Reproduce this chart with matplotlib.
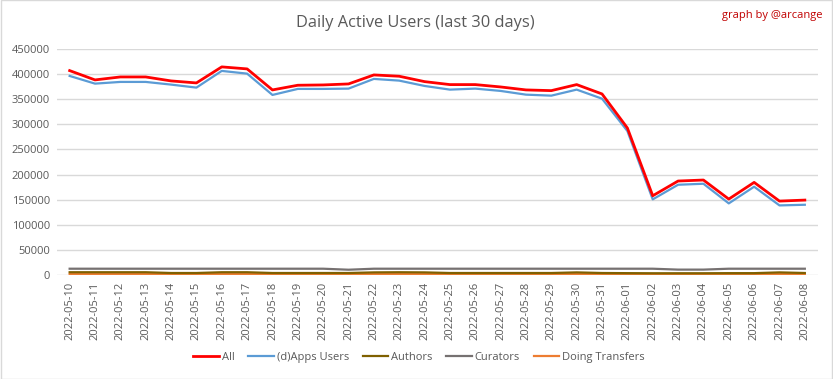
import matplotlib
matplotlib.use("Agg")
import matplotlib.pyplot as plt
from matplotlib.patches import Rectangle

dates = ["2022-05-10", "2022-05-11", "2022-05-12", "2022-05-13", "2022-05-14", "2022-05-15",
         "2022-05-16", "2022-05-17", "2022-05-18", "2022-05-19", "2022-05-20", "2022-05-21",
         "2022-05-22", "2022-05-23", "2022-05-24", "2022-05-25", "2022-05-26", "2022-05-27",
         "2022-05-28", "2022-05-29", "2022-05-30", "2022-05-31", "2022-06-01", "2022-06-02",
         "2022-06-03", "2022-06-04", "2022-06-05", "2022-06-06", "2022-06-07", "2022-06-08"]

all_users = [406800, 388300, 394200, 394200, 386300, 382300, 414200, 410200, 368400, 377700,
             378300, 380300, 398200, 395600, 384900, 379000, 379000, 374300, 368400, 367000,
             379000, 360400, 292700, 157900, 187200, 189200, 151300, 184500, 147300, 149300]
apps_users = [396200, 380900, 384300, 384300, 379000, 373000, 406200, 400800, 358400, 370400,
              370400, 371000, 390300, 386900, 376300, 369000, 371000, 366400, 359000, 357000,
              369000, 351000, 286700, 150700, 179800, 181800, 142700, 175900, 138700, 140000]
authors = [5800, 5800, 5800, 5800, 4300, 4300, 5800, 5800, 4300, 4300,
           4300, 4300, 5500, 5800, 5500, 4300, 4300, 4300, 4300, 4300,
           5500, 4300, 4000, 3800, 3800, 3800, 4000, 4000, 5500, 4300]
curators = [12800, 12800, 12800, 12800, 12800, 12800, 12800, 12800, 12800, 12800,
            12800, 10800, 12800, 12800, 12800, 12800, 12800, 12800, 12800, 12800,
            12800, 12800, 12800, 12800, 11000, 11000, 12800, 12800, 12800, 12800]
transfers = [2200, 2200, 2200, 2200, 2200, 2200, 2200, 2200, 2200, 2200,
             2200, 2200, 2200, 2200, 2200, 2200, 2200, 2200, 2200, 2200,
             2200, 2200, 1500, 1500, 2200, 2200, 2200, 2200, 2200, 2200]

series = [
    ("All", all_users, "#FF0000", 2.0),
    ("(d)Apps Users", apps_users, "#5B9BD5", 1.6),
    ("Authors", authors, "#7F6000", 1.6),
    ("Curators", curators, "#767171", 1.6),
    ("Doing Transfers", transfers, "#ED7D31", 1.6),
]

plt.rcParams['font.family'] = ['Open Sans', 'DejaVu Sans']
txt = "#595959"

fig = plt.figure(figsize=(8.33, 3.79), dpi=100)
ax = fig.add_axes([0.0684, 0.274, 0.913, 0.597])

x = list(range(len(dates)))
# draw in reverse so "All" is on top
for name, vals, col, lw in reversed(series):
    ax.plot(x, vals, color=col, lw=lw, label=name, solid_joinstyle='round')

ax.set_xlim(-0.5, len(dates) - 0.5)
ax.set_ylim(0, 450000)
ax.set_yticks(range(0, 450001, 50000))
ax.set_yticklabels([str(v) for v in range(0, 450001, 50000)])
ax.set_xticks(x)
ax.set_xticklabels(dates, rotation=90)
ax.tick_params(axis='both', length=0, labelsize=8, colors=txt, pad=5)
ax.grid(axis='y', color="#D9D9D9", lw=1)
ax.set_axisbelow(True)
for s in ax.spines.values():
    s.set_visible(False)

fig.text(0.499, 0.94, "Daily Active Users (last 30 days)", ha='center', va='center',
         fontsize=11.8, color=txt)
fig.text(0.987, 0.958, "graph by @arcange", ha='right', va='center', fontsize=8,
         color="#C00000")

handles, labels = ax.get_legend_handles_labels()
order = [labels.index(s[0]) for s in series]
leg = fig.legend([handles[i] for i in order], [labels[i] for i in order],
                 loc='center', bbox_to_anchor=(0.503, 0.057), ncol=5, frameon=False,
                 fontsize=8, handlelength=2.3, handletextpad=0.25, columnspacing=1.25,
                 labelcolor=txt)

fig.patches.append(Rectangle((0.0012, 0.0013), 0.9976, 0.9974, transform=fig.transFigure,
                             fill=False, edgecolor="#D9D9D9", lw=1))

fig.savefig("out.png", dpi=100)
